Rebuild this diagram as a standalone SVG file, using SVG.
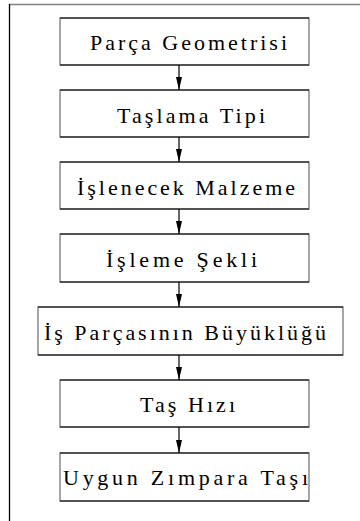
<svg xmlns="http://www.w3.org/2000/svg" width="360" height="521" viewBox="0 0 360 521">
<style>
.box{fill:#fff;stroke:#808080;stroke-width:1.4}
.hz{fill:none;stroke:#000;stroke-width:1.2}
.lbl{font-family:'Liberation Serif','DejaVu Serif',serif;font-size:22px;fill:#000}
.con{stroke:#000;stroke-width:1.2;fill:none}
</style>
<defs>
<marker id="ah" markerWidth="13" markerHeight="6" refX="13" refY="3" orient="auto" markerUnits="userSpaceOnUse" viewBox="0 0 13 6">
<path d="M0 0 L13 3 L0 6 Z" fill="#000"/>
</marker>
</defs>
<rect x="0" y="0" width="360" height="521" fill="#fff"/>
<path d="M9 4.5 H360" stroke="#808080" stroke-width="1.6" fill="none"/>
<path d="M9.5 4 V521" stroke="#000" stroke-width="1.3" fill="none"/>
<g id="n1">
<rect class="box" x="60" y="18" width="249" height="47"/>
<path class="hz" d="M60 18 H309 M60 65 H309"/>
<text class="lbl" x="90" y="50" textLength="197" lengthAdjust="spacing">Parça Geometrisi</text>
</g>
<g id="n2">
<rect class="box" x="60" y="90" width="249" height="47"/>
<path class="hz" d="M60 90 H309 M60 137 H309"/>
<text class="lbl" x="117" y="123" textLength="148" lengthAdjust="spacing">Taşlama Tipi</text>
</g>
<g id="n3">
<rect class="box" x="60" y="162" width="249" height="47"/>
<path class="hz" d="M60 162 H309 M60 209 H309"/>
<text class="lbl" x="77" y="195" textLength="218" lengthAdjust="spacing">İşlenecek Malzeme</text>
</g>
<g id="n4">
<rect class="box" x="60" y="234" width="249" height="48"/>
<path class="hz" d="M60 234 H309 M60 282 H309"/>
<text class="lbl" x="106" y="267" textLength="151" lengthAdjust="spacing">İşleme Şekli</text>
</g>
<g id="n5">
<rect class="box" x="38" y="307" width="305" height="48"/>
<path class="hz" d="M38 307 H343 M38 355 H343"/>
<text class="lbl" x="44" y="340" textLength="282" lengthAdjust="spacing">İş Parçasının Büyüklüğü</text>
</g>
<g id="n6">
<rect class="box" x="60" y="380" width="249" height="47"/>
<path class="hz" d="M60 380 H309 M60 427 H309"/>
<text class="lbl" x="140" y="412" textLength="95" lengthAdjust="spacing">Taş Hızı</text>
</g>
<g id="n7">
<rect class="box" x="60" y="453" width="249" height="48"/>
<path class="hz" d="M60 453 H309 M60 501 H309"/>
<text class="lbl" x="63" y="485" textLength="245" lengthAdjust="spacing">Uygun Zımpara Taşı</text>
</g>
<g id="connectors">
<path class="con" d="M179 65 V90" marker-end="url(#ah)"/>
<path class="con" d="M179 137 V162" marker-end="url(#ah)"/>
<path class="con" d="M179 209 V234" marker-end="url(#ah)"/>
<path class="con" d="M179 282 V307" marker-end="url(#ah)"/>
<path class="con" d="M179 355 V380" marker-end="url(#ah)"/>
<path class="con" d="M179 427 V453" marker-end="url(#ah)"/>
</g>
</svg>
